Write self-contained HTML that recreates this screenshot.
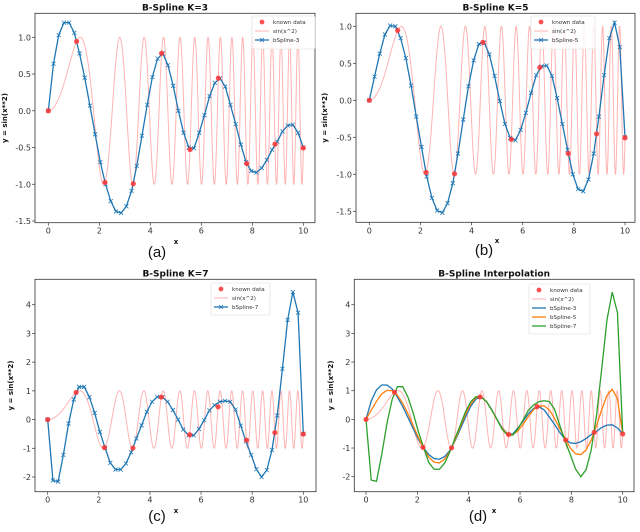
<!DOCTYPE html>
<html><head><meta charset="utf-8"><style>
html,body{margin:0;padding:0;background:#fff;}
svg{display:block;font-family:"DejaVu Sans","Liberation Sans",sans-serif;}
</style></head><body>
<svg id="fig" width="640" height="532" viewBox="0 0 640 532" xmlns="http://www.w3.org/2000/svg"></svg>
<script>
// ---- data ----
const knownX = [0,1.111,2.222,3.333,4.444,5.556,6.667,7.778,8.889,10];
const knownY = [0,0.944,-0.975,-0.993,0.783,-0.527,0.444,-0.718,-0.454,-0.506];
const splineK3 = [0,0.64,1.03,1.2,1.2,1.06,0.78,0.45,0.07,-0.32,-0.7,-1.0,-1.23,-1.37,-1.39,-1.3,-1.09,-0.75,-0.34,0.08,0.46,0.71,0.78,0.62,0.34,0.0,-0.3,-0.5,-0.51,-0.3,-0.06,0.2,0.38,0.44,0.33,0.08,-0.18,-0.46,-0.7,-0.82,-0.84,-0.78,-0.67,-0.53,-0.42,-0.28,-0.2,-0.19,-0.3,-0.5];
const splineK5 = [0,0.32,0.63,0.89,1.01,1.0,0.84,0.57,0.2,-0.22,-0.63,-1.03,-1.32,-1.49,-1.52,-1.39,-1.12,-0.72,-0.26,0.19,0.54,0.76,0.78,0.62,0.33,-0.01,-0.32,-0.51,-0.54,-0.4,-0.17,0.1,0.34,0.46,0.47,0.33,0.03,-0.32,-0.67,-1.0,-1.2,-1.23,-1.07,-0.72,-0.22,0.34,0.84,1.05,0.72,-0.5];
const splineK7 = [0,-2.12,-2.16,-1.23,-0.14,0.7,1.14,1.14,0.78,0.23,-0.43,-0.99,-1.51,-1.74,-1.74,-1.53,-1.14,-0.66,-0.2,0.27,0.62,0.79,0.78,0.62,0.33,0,-0.35,-0.55,-0.55,-0.33,-0.02,0.32,0.5,0.62,0.65,0.62,0.35,-0.21,-0.76,-1.23,-1.73,-2.0,-1.76,-1.06,0.14,1.77,3.47,4.44,3.72,-0.5];
const xTicks = [0,2,4,6,8,10];
const yTicksSmall = [-1.5,-1.0,-0.5,0.0,0.5,1.0];
const yTicksLarge = [-2,-1,0,1,2,3,4];

const NS="http://www.w3.org/2000/svg";
const fig=document.getElementById('fig');
function mk(tag,attrs,parent){const e=document.createElementNS(NS,tag);for(const k in attrs)e.setAttribute(k,attrs[k]);(parent||fig).appendChild(e);return e;}
function txt(str,attrs,parent){const e=mk('text',attrs,parent);e.textContent=str;return e;}

function panel(cfg){
  const g=mk('g',{});
  
  
  const sx=v=>cfg.x0+(v-0)*(cfg.x10-cfg.x0)/10;
  const sy=v=>cfg.yA+(v-cfg.vA)*(cfg.yB-cfg.yA)/(cfg.vB-cfg.vA);
  const box=mk('rect',{x:cfg.l,y:cfg.t,width:cfg.r-cfg.l,height:cfg.b-cfg.t,fill:'#fff',stroke:'#333','stroke-width':0.8},g);
  
  
  // ticks
  xTicks.forEach(v=>{
    mk('line',{x1:sx(v),x2:sx(v),y1:cfg.b,y2:cfg.b+3,stroke:'#333','stroke-width':0.7},g);
    const t=txt(String(v),{x:sx(v),y:cfg.b+11,'font-size':8,fill:'#333','text-anchor':'middle'},g);
    
    
  });
  cfg.yt.forEach(v=>{
    mk('line',{x1:cfg.l-3,x2:cfg.l,y1:sy(v),y2:sy(v),stroke:'#333','stroke-width':0.7},g);
    const lab=cfg.dec?v.toFixed(1):String(v);
    const t=txt(lab,{x:cfg.l-4,y:sy(v)+3,'font-size':8,fill:'#333','text-anchor':'end'},g);
    
    
  });
  // sin curve
  let d='';
  for(let i=0;i<=3000;i++){const x=i*10/3000;d+=(i?'L':'M')+sx(x).toFixed(2)+','+sy(Math.sin(x*x)).toFixed(2);}
  const sc=mk('path',{d:d,fill:'none',stroke:'#ffb3b3','stroke-width':1},g);
  
  
  // splines
  cfg.series.forEach(s=>{
    const pts=s.data.map((v,i)=>[sx(i*10/(s.data.length-1)),sy(v)]);
    const p=mk('polyline',{points:pts.map(q=>q[0].toFixed(2)+','+q[1].toFixed(2)).join(' '),fill:'none',stroke:s.color,'stroke-width':1.3},g);
    
    
    if(s.markers){pts.forEach(q=>{
      const m=mk('path',{d:`M${q[0]-2},${q[1]-2}L${q[0]+2},${q[1]+2}M${q[0]-2},${q[1]+2}L${q[0]+2},${q[1]-2}`,stroke:s.color,'stroke-width':0.8},g);
      
      
    });}
  });
  // known data
  knownX.forEach((x,i)=>{
    const c=mk('circle',{cx:sx(x),cy:sy(knownY[i]),r:2.6,fill:'#ff3333','fill-opacity':0.85},g);
    
    
  });
  // legend
  const L=cfg.leg;
  const lg=mk('g',{},g);
  
  
  mk('rect',{x:L.x,y:L.y,width:L.w,height:L.h,fill:'#fff','fill-opacity':0.85,stroke:'#ddd','stroke-width':0.6,rx:1.5},lg);
  L.items.forEach((it,k)=>{
    const yy=L.y+6+k*9;
    if(it.type==='dot')mk('circle',{cx:L.x+10,cy:yy,r:2.4,fill:'#ff3333','fill-opacity':0.85},lg);
    else{
      mk('line',{x1:L.x+3,x2:L.x+17,y1:yy,y2:yy,stroke:it.color,'stroke-width':it.type==='sin'?1:1.3},lg);
      if(it.type==='mark')mk('path',{d:`M${L.x+8},${yy-2}L${L.x+12},${yy+2}M${L.x+8},${yy+2}L${L.x+12},${yy-2}`,stroke:it.color,'stroke-width':0.8},lg);
    }
    const t=txt(it.label,{x:L.x+21,y:yy+2,'font-size':5.6,fill:'#333'},lg);
    
    
  });
  // titles
  const ti=txt(cfg.title,{x:(cfg.l+cfg.r)/2,y:cfg.t-3,'font-size':9,'font-weight':'bold','text-anchor':'middle',fill:'#111'},g);
  
  
  const yl=txt('y = sin(x**2)',{x:0,y:0,'font-size':7,'font-weight':'bold','text-anchor':'middle',fill:'#111',transform:`translate(${cfg.ylx},${(cfg.t+cfg.b)/2}) rotate(-90)`},g);
  
  
  const xl=txt('x',{x:cfg.xl[0],y:cfg.xl[1],'font-size':7,'font-weight':'bold','text-anchor':'middle',fill:'#111'},g);
  
  
  const sl=txt(cfg.sub,{x:cfg.sl[0],y:cfg.sl[1],'font-size':15,'text-anchor':'middle',fill:'#111','font-family':'Liberation Sans, sans-serif'},g);
  
  
}
const blue='#1f77b4';
const legItems3=(lab)=>[{type:'dot',label:'known data'},{type:'sin',color:'#ffb3b3',label:'sin(x^2)'},{type:'mark',color:blue,label:lab}];
panel({name:'panel-a',title:'B-Spline K=3',l:35,r:315,t:13.3,b:222.7,x0:48.3,x10:303.3,vA:1,yA:37.3,vB:-1.5,yB:221,yt:yTicksSmall,dec:true,
  series:[{data:splineK3,color:blue,markers:true,name:'bspline-3-line'}],
  leg:{x:252,y:16,w:63,h:33,items:legItems3('bSpline-3')},ylx:7,xl:[176,244],sub:'(a)',sl:[157,257]});
panel({name:'panel-b',title:'B-Spline K=5',l:356,r:635,t:13.3,b:222.3,x0:369.3,x10:625,vA:1,yA:26.3,vB:-1.5,yB:211.3,yt:yTicksSmall,dec:true,
  series:[{data:splineK5,color:blue,markers:true,name:'bspline-5-line'}],
  leg:{x:531,y:16,w:64,h:33,items:legItems3('bSpline-5')},ylx:327,xl:[497,243],sub:'(b)',sl:[484,255]});
panel({name:'panel-c',title:'B-Spline K=7',l:35,r:316,t:279.3,b:491.7,x0:47.7,x10:303.3,vA:4,yA:304.7,vB:-2,yB:477,yt:yTicksLarge,dec:false,
  series:[{data:splineK7,color:blue,markers:true,name:'bspline-7-line'}],
  leg:{x:211,y:283,w:59,h:32,items:legItems3('bSpline-7')},ylx:13,xl:[176,513],sub:'(c)',sl:[157,521]});
panel({name:'panel-d',title:'B-Spline Interpolation',l:354.3,r:634,t:279.3,b:491.7,x0:366,x10:622.7,vA:4,yA:304.7,vB:-2,yB:476.7,yt:yTicksLarge,dec:false,
  series:[{data:splineK3,color:blue,markers:false,name:'bspline-3-line'},{data:splineK5,color:'#ff7f0e',markers:false,name:'bspline-5-line'},{data:splineK7,color:'#2ca02c',markers:false,name:'bspline-7-line'}],
  leg:{x:529,y:284,w:61,h:50,items:[{type:'dot',label:'known data'},{type:'sin',color:'#ffb3b3',label:'sin(x^2)'},{type:'line',color:blue,label:'bSpline-3'},{type:'line',color:'#ff7f0e',label:'bSpline-5'},{type:'line',color:'#2ca02c',label:'bSpline-7'}]},
  ylx:333,xl:[494,513],sub:'(d)',sl:[478,521]});
</script>
</body></html>
